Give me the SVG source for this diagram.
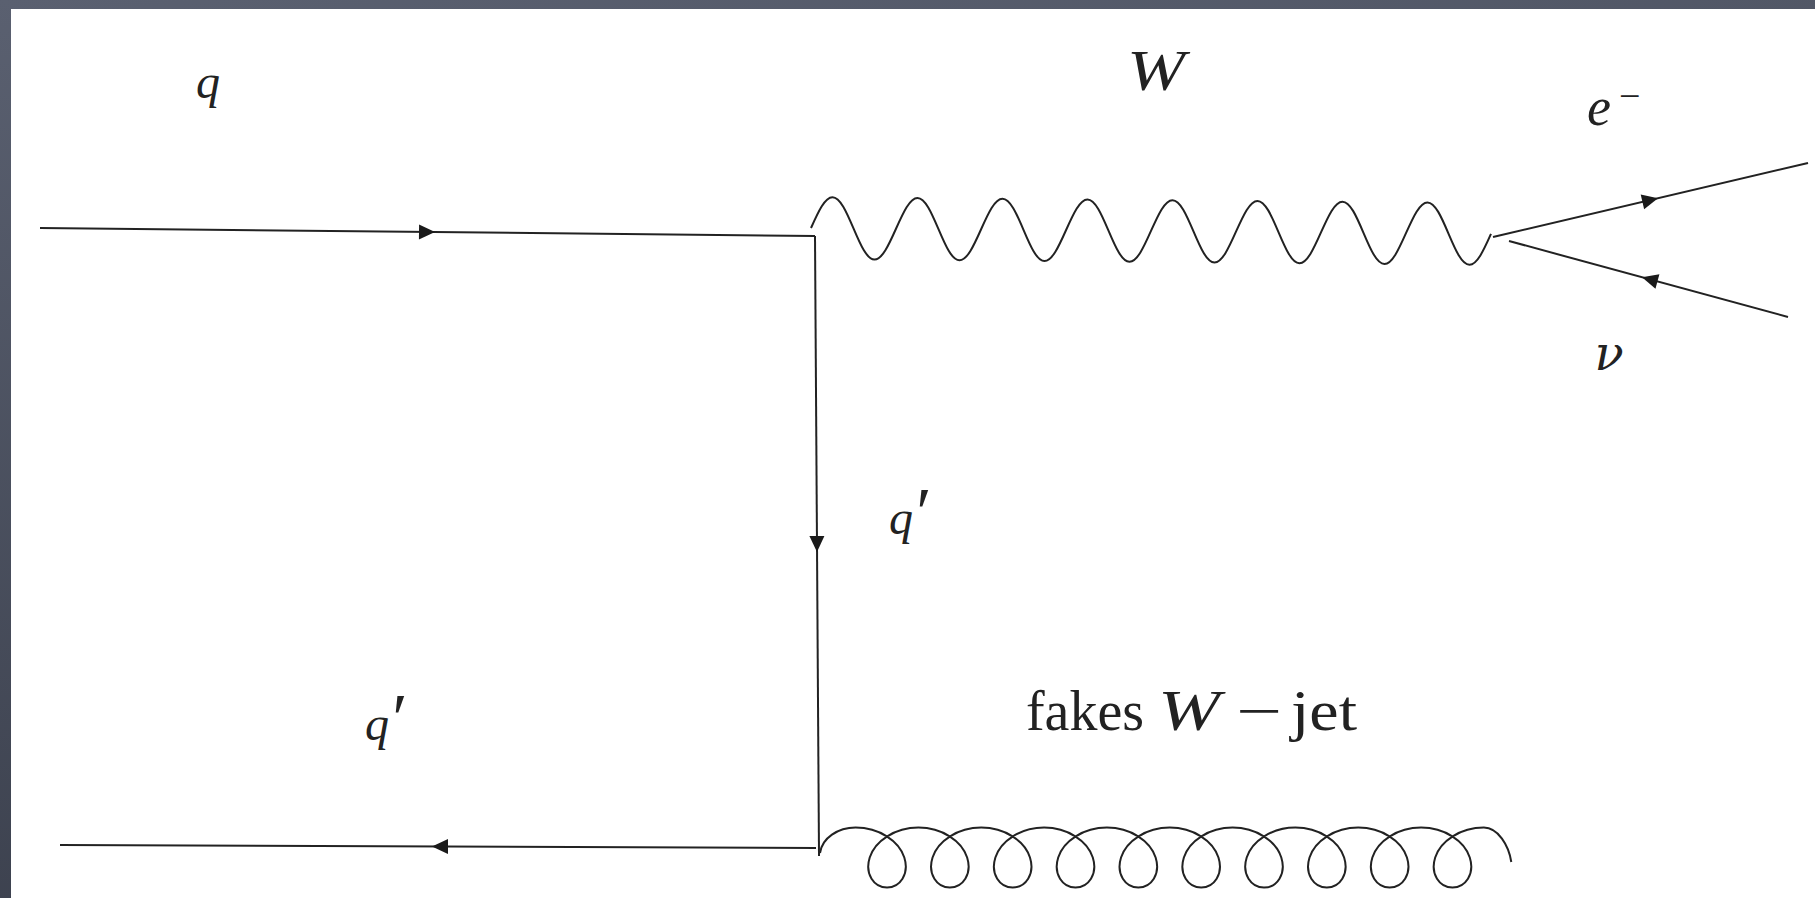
<svg xmlns="http://www.w3.org/2000/svg" xmlns:xlink="http://www.w3.org/1999/xlink" width="1815" height="898" viewBox="0 0 1815 898">
<style>
.ln{fill:none;stroke:#222;stroke-width:2;stroke-linecap:butt}
.ar{fill:#1a1a1a;stroke:none}
.m{font-family:"Liberation Serif","DejaVu Serif",serif;font-style:italic;fill:#222}
.r{font-family:"Liberation Serif","DejaVu Serif",serif;font-style:normal;fill:#222}
.g{font-family:"DejaVu Serif","Liberation Serif",serif;font-style:italic;fill:#222}
</style>
<defs>
<linearGradient id="bg" x1="0" y1="0" x2="0.3" y2="1">
<stop offset="0" stop-color="#5a6070"/>
<stop offset="1" stop-color="#3b404d"/>
</linearGradient>
<path id="arr" d="M0,0 L-16,-7.5 L-16,7.5 Z"/>
</defs>
<rect x="0" y="0" width="1815" height="898" fill="url(#bg)"/>
<rect x="11" y="9" width="1804" height="889" fill="#ffffff"/>
<g id="connectors">
<g id="q-in">
<path class="ln" d="M40,228 L815,236"/>
<use xlink:href="#arr" class="ar" transform="translate(435,232.1) rotate(0.59)"/>
</g>
<g id="q-prop">
<path class="ln" d="M815,236 L819,856"/>
<use xlink:href="#arr" class="ar" transform="translate(817,552) rotate(89.63)"/>
</g>
<g id="qbar-out">
<path class="ln" d="M60,845 L816,848"/>
<use xlink:href="#arr" class="ar" transform="translate(432,846.5) rotate(180.23)"/>
</g>
<g id="w-boson">
<path class="ln" transform="rotate(0.5 811 228)" d="M811,228 c7.1,-16.28 13.6,-31 21.25,-31 c7.65,0 14.15,14.72 21.25,31 c7.1,16.28 13.6,31 21.25,31 c7.65,0 14.15,-14.72 21.25,-31 c7.1,-16.28 13.6,-31 21.25,-31 c7.65,0 14.15,14.72 21.25,31 c7.1,16.28 13.6,31 21.25,31 c7.65,0 14.15,-14.72 21.25,-31 c7.1,-16.28 13.6,-31 21.25,-31 c7.65,0 14.15,14.72 21.25,31 c7.1,16.28 13.6,31 21.25,31 c7.65,0 14.15,-14.72 21.25,-31 c7.1,-16.28 13.6,-31 21.25,-31 c7.65,0 14.15,14.72 21.25,31 c7.1,16.28 13.6,31 21.25,31 c7.65,0 14.15,-14.72 21.25,-31 c7.1,-16.28 13.6,-31 21.25,-31 c7.65,0 14.15,14.72 21.25,31 c7.1,16.28 13.6,31 21.25,31 c7.65,0 14.15,-14.72 21.25,-31 c7.1,-16.28 13.6,-31 21.25,-31 c7.65,0 14.15,14.72 21.25,31 c7.1,16.28 13.6,31 21.25,31 c7.65,0 14.15,-14.72 21.25,-31 c7.1,-16.28 13.6,-31 21.25,-31 c7.65,0 14.15,14.72 21.25,31 c7.1,16.28 13.6,31 21.25,31 c7.65,0 14.15,-14.72 21.25,-31 c7.1,-16.28 13.6,-31 21.25,-31 c7.65,0 14.15,14.72 21.25,31 c7.1,16.28 13.6,31 21.25,31 c7.65,0 14.15,-14.72 21.25,-31"/>
</g>
<g id="electron">
<path class="ln" d="M1493,237 L1808,163"/>
<use xlink:href="#arr" class="ar" transform="translate(1658,198.2) rotate(-13.22)"/>
</g>
<g id="neutrino">
<path class="ln" d="M1509,241 L1788,317"/>
<use xlink:href="#arr" class="ar" transform="translate(1642,277.2) rotate(195.24)"/>
</g>
<g id="gluon">
<path class="ln" d="M820,853 C822,838 838,827.5 855.6,827.5 c23.47,0 43.47,13.43 48.71,30 c5.24,16.57 -4.3,30 -17.29,30 c-12.99,0 -22.54,-13.43 -17.3,-30 c5.24,-16.57 25.24,-30 48.71,-30 c23.47,0 43.47,13.43 48.71,30 c5.24,16.57 -4.3,30 -17.29,30 c-12.99,0 -22.54,-13.43 -17.3,-30 c5.24,-16.57 25.24,-30 48.71,-30 c23.47,0 43.47,13.43 48.71,30 c5.24,16.57 -4.3,30 -17.29,30 c-12.99,0 -22.54,-13.43 -17.3,-30 c5.24,-16.57 25.24,-30 48.71,-30 c23.47,0 43.47,13.43 48.71,30 c5.24,16.57 -4.3,30 -17.29,30 c-12.99,0 -22.54,-13.43 -17.3,-30 c5.24,-16.57 25.24,-30 48.71,-30 c23.47,0 43.47,13.43 48.71,30 c5.24,16.57 -4.3,30 -17.29,30 c-12.99,0 -22.54,-13.43 -17.3,-30 c5.24,-16.57 25.24,-30 48.71,-30 c23.47,0 43.47,13.43 48.71,30 c5.24,16.57 -4.3,30 -17.29,30 c-12.99,0 -22.54,-13.43 -17.3,-30 c5.24,-16.57 25.24,-30 48.71,-30 c23.47,0 43.47,13.43 48.71,30 c5.24,16.57 -4.3,30 -17.29,30 c-12.99,0 -22.54,-13.43 -17.3,-30 c5.24,-16.57 25.24,-30 48.71,-30 c23.47,0 43.47,13.43 48.71,30 c5.24,16.57 -4.3,30 -17.29,30 c-12.99,0 -22.54,-13.43 -17.3,-30 c5.24,-16.57 25.24,-30 48.71,-30 c23.47,0 43.47,13.43 48.71,30 c5.24,16.57 -4.3,30 -17.29,30 c-12.99,0 -22.54,-13.43 -17.3,-30 c5.24,-16.57 25.24,-30 48.71,-30 c23.47,0 43.47,13.43 48.71,30 c5.24,16.57 -4.3,30 -17.29,30 c-12.99,0 -22.54,-13.43 -17.3,-30 c5.24,-16.57 25.24,-30 48.71,-30 c14,0 25,18 27.4,34.5"/>
</g>
</g>
<g id="label-q"><text class="m" x="208" y="98" font-size="48" text-anchor="middle">q</text></g>
<g id="label-W"><text class="m" x="1127" y="90" font-size="58" textLength="58" lengthAdjust="spacingAndGlyphs">W</text></g>
<g id="label-e"><text class="m" x="1587" y="125" font-size="54">e<tspan class="r" font-size="38" x="1619" y="109">−</tspan></text></g>
<g id="label-nu"><text class="g" x="1609" y="370" font-size="48" text-anchor="middle">ν</text></g>
<g id="label-qp-mid"><text class="m" x="889" y="534" font-size="48">q<tspan font-size="70" x="912" y="536">′</tspan></text></g>
<g id="label-qp-bot"><text class="m" x="365" y="740" font-size="48">q<tspan font-size="70" x="388" y="742">′</tspan></text></g>
<g id="label-fakes"><text class="r" font-size="56" y="730"><tspan x="1026" textLength="118" lengthAdjust="spacingAndGlyphs">fakes</tspan><tspan class="m" x="1158" font-size="58" textLength="62" lengthAdjust="spacingAndGlyphs">W</tspan><tspan x="1236" textLength="46" lengthAdjust="spacingAndGlyphs">−</tspan><tspan x="1291" textLength="66" lengthAdjust="spacingAndGlyphs">jet</tspan></text></g>
</svg>
